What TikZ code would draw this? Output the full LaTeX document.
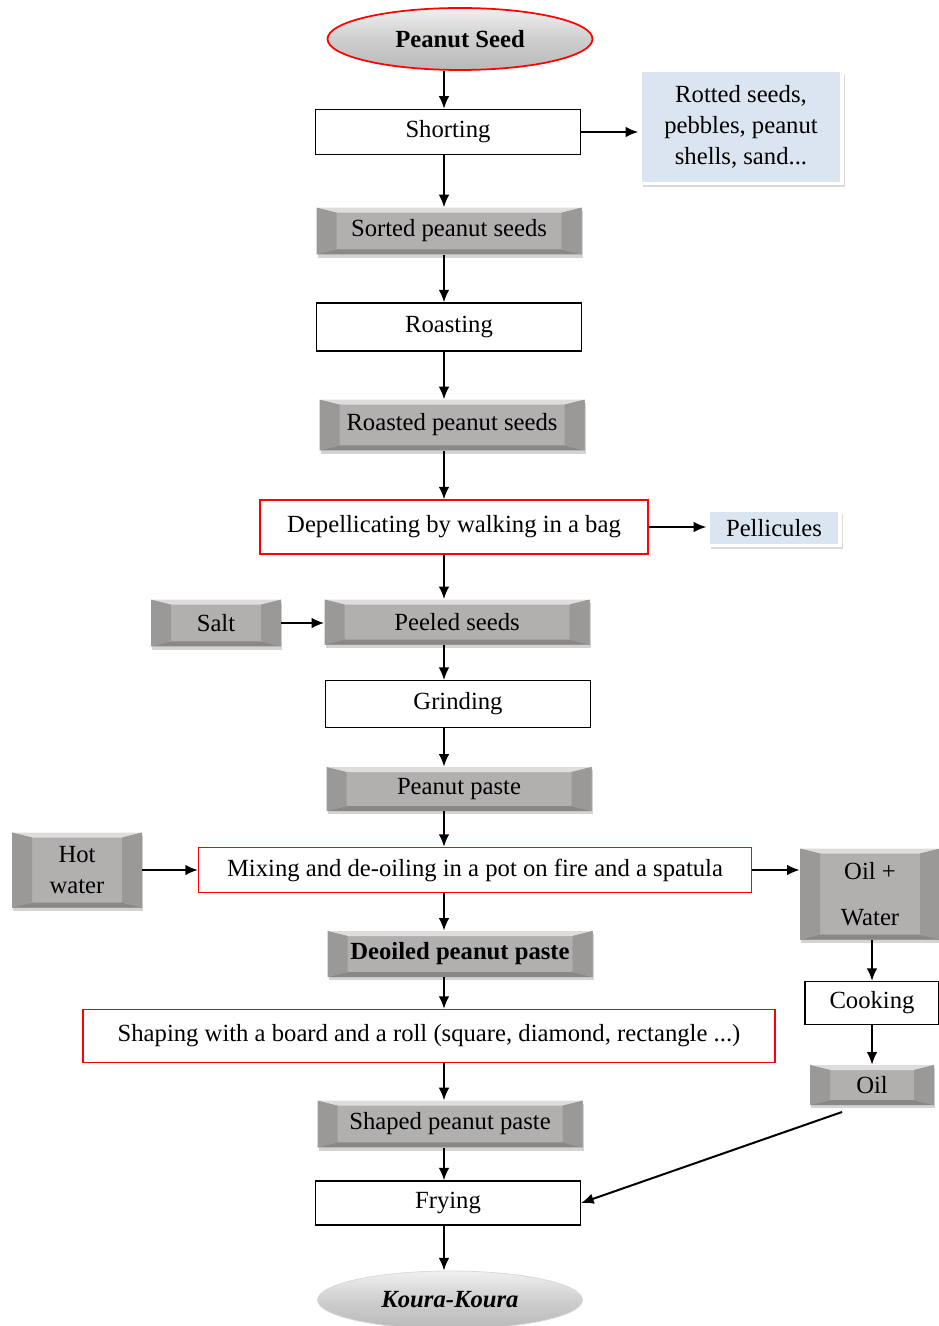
\documentclass[tikz,border=0pt]{standalone}
\usepackage{fontspec}
\setmainfont{Liberation Serif}
\usetikzlibrary{shapes.geometric,arrows.meta,shadows,calc}

\definecolor{bevface}{RGB}{178,175,175}
\definecolor{bevside}{RGB}{155,152,152}
\definecolor{bevtop}{RGB}{222,220,220}
\definecolor{bevlow}{RGB}{138,135,135}
\definecolor{notefill}{RGB}{219,229,241}

\tikzset{
  every node/.style={font=\fontsize{18.5}{23}\selectfont, inner sep=2pt},
  frame/.style={draw=black, fill=white, line width=0.8pt, minimum width=198.75pt, minimum height=34pt},
  redframe/.style={draw=red, fill=white, line width=0.8pt},
  bevel/.style={fill=bevface, minimum width=198.75pt, minimum height=35pt,
    drop shadow={shadow xshift=1pt, shadow yshift=-2.5pt, opacity=0.35},
    path picture={
      % inside the path picture y points up again
      \path (path picture bounding box.north west) coordinate (pnw)
            (path picture bounding box.north east) coordinate (pne)
            (path picture bounding box.south east) coordinate (pse)
            (path picture bounding box.south west) coordinate (psw);
      \fill[bevtop] (pnw) -- (pne) -- ($(pne)+(-20,-5)$) -- ($(pnw)+(20,-5)$) -- cycle;
      \fill[bevlow] (psw) -- (pse) -- ($(pse)+(-20,5)$) -- ($(psw)+(20,5)$) -- cycle;
      \fill[bevside] (pnw) -- ($(pnw)+(20,-5)$) -- ($(psw)+(20,5)$) -- (psw) -- cycle;
      \fill[bevside] (pne) -- ($(pne)+(-20,-5)$) -- ($(pse)+(-20,5)$) -- (pse) -- cycle;
    }},
  note/.style={fill=notefill, draw=white, line width=2.5pt, align=center,
    drop shadow={shadow xshift=2pt, shadow yshift=-2.5pt, opacity=0.3}},
  seed/.style={ellipse, minimum width=198.75pt, minimum height=46.5pt,
    top color=gray!12, bottom color=gray!55, middle color=gray!38},
  flow/.style={-{Latex[length=9.5pt,width=8pt]}, line width=1.5pt}
}

\begin{document}
\begin{tikzpicture}[x=0.75pt,y=0.75pt,yscale=-1,xscale=1]
        \useasboundingbox (0,0) rectangle (938,1326);
        % main column
        \node[seed, draw=red, line width=1.3pt] (seed) at (460,39) {\textbf{Peanut Seed}};
        \node[frame] (short) at (448,132) {Shorting};
        \node[note, minimum width=151.5pt, minimum height=84.75pt] (waste) at (741,127) {Rotted seeds,\\pebbles, peanut\\shells, sand...};
        \node[bevel] (sorted) at (449,231) {Sorted peanut seeds};
        \node[frame, minimum height=36pt] (roast) at (449,327) {Roasting};
        \node[bevel, minimum height=38pt] (roasted) at (452,425) {Roasted peanut seeds};
        \node[redframe, minimum width=291pt, minimum height=40.5pt] (depel) at (454,527) {Depellicating by walking in a bag};
        \node[note, minimum width=99pt, minimum height=26.25pt] (pell) at (774,528) {Pellicules};
        \node[bevel, minimum width=97.5pt] (salt) at (216,623) {Salt};
        \node[bevel, minimum height=33.75pt] (peeled) at (457,622) {Peeled seeds};
        \node[frame, minimum height=35pt] (grind) at (458,704) {Grinding};
        \node[bevel, minimum height=33pt] (paste) at (459,789) {Peanut paste};
        % de-oiling
        \node[bevel, minimum width=97.5pt, minimum height=56.25pt, align=center] (hot) at (77,870) {Hot\\water};
        \node[redframe, minimum width=414.75pt, minimum height=33.75pt] (mix) at (475,870) {Mixing and de-oiling in a pot on fire and a spatula};
        \node[bevel, minimum width=105pt, minimum height=68.25pt, align=center] (oilw) at (870,894) {Oil +\\[12pt]Water};
        \node[bevel, minimum height=34.5pt] (deoil) at (460,954) {\textbf{Deoiled peanut paste}};
        \node[frame, minimum width=100.5pt, minimum height=32.25pt] (cook) at (872,1003) {Cooking};
        \node[redframe, minimum width=519pt, minimum height=39.75pt] (shape) at (429,1036) {Shaping with a board and a roll (square, diamond, rectangle ...)};
        \node[bevel, minimum width=93pt, minimum height=30pt] (oil) at (872,1085) {Oil};
        \node[bevel, minimum height=35pt] (shaped) at (450,1124) {Shaped peanut paste};
        \node[frame, minimum height=33pt] (fry) at (448,1203) {Frying};
        \node[seed, draw=gray!30, line width=0.6pt, minimum height=43.5pt] (koura) at (450,1300) {\textbf{\textit{Koura-Koura}}};
        % arrows
        \coordinate (axis) at (444,0);
        \coordinate (oilout) at (842,1112);
        \draw[flow] (seed.south -| axis) -- (short.north -| axis);
        \draw[flow] (short.south -| axis) -- (sorted.north -| axis);
        \draw[flow] (sorted.south -| axis) -- (roast.north -| axis);
        \draw[flow] (roast.south -| axis) -- (roasted.north -| axis);
        \draw[flow] (roasted.south -| axis) -- (depel.north -| axis);
        \draw[flow] (depel.south -| axis) -- (peeled.north -| axis);
        \draw[flow] (peeled.south -| axis) -- (grind.north -| axis);
        \draw[flow] (grind.south -| axis) -- (paste.north -| axis);
        \draw[flow] (paste.south -| axis) -- (mix.north -| axis);
        \draw[flow] (mix.south -| axis) -- (deoil.north -| axis);
        \draw[flow] (deoil.south -| axis) -- (shape.north -| axis);
        \draw[flow] (shape.south -| axis) -- (shaped.north -| axis);
        \draw[flow] (shaped.south -| axis) -- (fry.north -| axis);
        \draw[flow] (fry.south -| axis) -- (koura.north -| axis);
        % side arrows
        \draw[flow] (short.east) -- (short.east -| waste.west);
        \draw[flow] (depel.east) -- (depel.east -| pell.west);
        \draw[flow] (salt.east) -- (salt.east -| peeled.west);
        \draw[flow] (hot.east) -- (hot.east -| mix.west);
        \draw[flow] (mix.east) -- (mix.east -| oilw.west);
        \draw[flow] (oilw.south -| cook) -- (cook.north);
        \draw[flow] (cook.south) -- (oil.north);
        \draw[flow] (oilout) -- (fry.east);
    \end{tikzpicture}
\end{document}
